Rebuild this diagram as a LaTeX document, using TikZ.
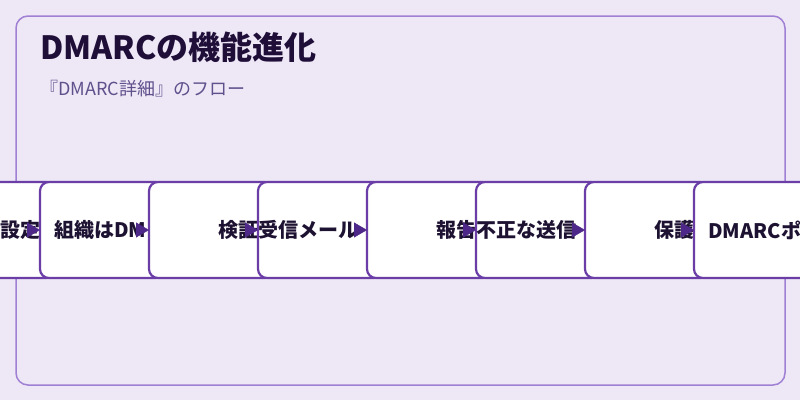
\documentclass[tikz,border=0pt]{standalone}
\usepackage{fontspec}
\setmainfont{Noto Sans CJK JP}
\usetikzlibrary{arrows.meta,positioning}
\definecolor{pagebg}{RGB}{237,231,246}
\definecolor{frameline}{RGB}{160,128,212}
\definecolor{boxline}{RGB}{106,62,166}
\definecolor{arrowink}{RGB}{78,40,136}
\definecolor{titleink}{RGB}{30,14,56}
\definecolor{subink}{RGB}{96,80,140}
\definecolor{ink}{RGB}{30,18,50}

\begin{document}
\begin{tikzpicture}[
    x=1pt, y=-1pt,
    panel/.style={draw=frameline, line width=1.5pt, fill=pagebg, rounded corners=12pt, minimum width=769pt, minimum height=369pt, inner sep=0pt},
    stepbox/.style={draw=boxline, line width=2.2pt, fill=white, rounded corners=9pt, minimum width=125pt, minimum height=96pt, inner sep=0pt, outer sep=0pt},
    lbl/.style={font=\fontsize{20}{22}\selectfont\bfseries, text=ink, inner sep=0pt},
    arrow/.style={-{Triangle[length=13pt,width=15pt]}, thin, arrowink}
]
    \useasboundingbox[fill=pagebg] (0,0) rectangle (800,400);
    \node[panel] (panel) at (400.5,200.5) {};

    % Title
    \node[anchor=west, inner sep=0pt, text=titleink, font=\fontsize{32}{36}\selectfont\bfseries] (title) at (40,47) {DMARCの機能進化};
    \node[anchor=west, inner sep=0pt, text=subink, font=\fontsize{18}{20}\selectfont] (subtitle) at (40,89) {『DMARC詳細』のフロー};

    % Steps (each one laid over the previous)
    \node[stepbox, anchor=west] (b0) at (-69,230) {};
    \node[lbl, left=15pt of b0.east] (t0) {設定};
    \node[stepbox, right=-16pt of b0] (b1) {};
    \node[lbl, right=14pt of b1.west] (t1) {組織はDM};
    \node[stepbox, right=-16pt of b1] (b2) {};
    \node[lbl, left=15pt of b2.east] (t2) {検証};
    \node[stepbox, right=-16pt of b2] (b3) {};
    \node[lbl, right=0pt of b3.west] (t3) {受信メール};
    \node[stepbox, right=-16pt of b3] (b4) {};
    \node[lbl, left=15pt of b4.east] (t4) {報告};
    \node[stepbox, right=-16pt of b4] (b5) {};
    \node[lbl, right=0pt of b5.west] (t5) {不正な送信};
    \node[stepbox, right=-16pt of b5] (b6) {};
    \node[lbl, left=15pt of b6.east] (t6) {保護};
    \node[stepbox, right=-16pt of b6] (b7) {};
    \node[lbl, right=14pt of b7.west] (t7) {DMARCポ};

    % Arrow heads into each step
    \coordinate[left=13pt of b1.west] (a1);
    \coordinate[left=13pt of b2.west] (a2);
    \coordinate[left=13pt of b3.west] (a3);
    \coordinate[left=13pt of b4.west] (a4);
    \coordinate[left=13pt of b5.west] (a5);
    \coordinate[left=13pt of b6.west] (a6);
    \coordinate[left=13pt of b7.west] (a7);
    \draw[arrow] (a1) -- (b1);
    \draw[arrow] (a2) -- (b2);
    \draw[arrow] (a3) -- (b3);
    \draw[arrow] (a4) -- (b4);
    \draw[arrow] (a5) -- (b5);
    \draw[arrow] (a6) -- (b6);
    \draw[arrow] (a7) -- (b7);
\end{tikzpicture}
\end{document}
